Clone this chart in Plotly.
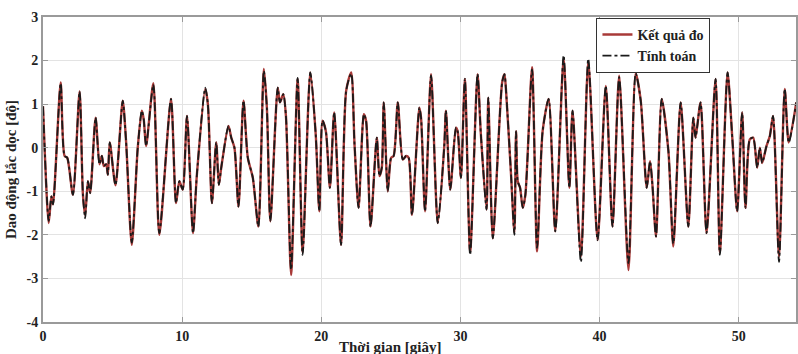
import plotly.graph_objects as go

# time (s) of read key points
t = [0.0, 0.41, 0.6, 0.72, 1.27, 1.55, 1.74, 2.15, 2.63, 2.87, 3.03, 3.23, 3.39, 3.78,
     4.06, 4.23, 4.37, 4.54, 4.66, 4.80, 5.21, 5.73, 5.97, 6.38, 6.81, 7.1, 7.24, 7.41,
     7.93, 8.36, 9.2, 9.56, 9.8, 10.04, 10.35, 10.78, 11.06, 11.66, 11.85, 12.14, 12.45,
     12.64, 12.81, 13.33, 13.53, 13.76, 14.05, 14.41, 14.72, 15.08, 15.48, 15.87, 16.09,
     16.34, 16.87, 17.03, 17.27, 17.46, 17.83, 18.3, 18.66, 19.21, 19.6, 19.86, 20.09,
     20.33, 20.62, 20.93, 21.42, 21.79, 22.15, 22.39, 22.68, 23.06, 23.22, 23.54, 23.99,
     24.18, 24.35, 24.49, 24.78, 25.02, 25.2, 25.5, 25.86, 26.1, 26.28, 26.52, 27.05,
     27.17, 27.46, 27.89, 28.37, 28.84, 28.96, 29.27, 29.68, 29.8, 30.04, 30.32, 30.7,
     31.23, 31.47, 31.88, 32.0, 32.33, 33.0, 33.17, 33.28, 33.64, 33.88, 34.0, 34.12,
     34.29, 34.48, 34.67, 35.15, 35.51, 35.91, 36.34, 36.82, 37.42, 37.83, 38.06, 38.66,
     39.19, 39.86, 40.45, 40.93, 41.41, 42.08, 42.6, 42.96, 43.39, 43.63, 43.8, 44.06,
     44.47, 44.95, 45.3, 45.83, 46.38, 46.74, 46.9, 47.26, 47.69, 48.34, 48.65, 49.2,
     49.54, 49.89, 50.25, 50.49, 50.8, 51.04, 51.33, 51.52, 51.69, 52.0, 52.24, 52.47,
     52.9, 53.31, 53.6, 54.14]

# measured pitch oscillation (deg)
measured = [0.95, -1.73, -1.12, -1.3, 1.5, -0.19, -0.23, -1.08, 1.29, -1.08, -1.55, -0.77,
            -1.04, 0.69, -0.38, -0.19, -0.42, -0.38, -0.62, 0.12, -0.86, 1.08, 0.15, -2.23,
            0.0, 0.85, 0.65, 0.04, 1.48, -2.0, 1.12, -1.27, -0.77, -0.96, 0.73, -1.96,
            -0.62, 1.35, 1.0, -1.27, 0.12, -0.85, -0.46, 0.5, 0.23, 0.0, -1.35, 1.08, -0.23,
            -0.69, -1.81, 1.81, 0.92, -1.69, 1.38, 1.04, 1.23, 0.73, -2.92, 1.58, -2.4,
            1.73, 0.31, -1.46, 0.62, 0.38, -0.92, 0.81, -2.23, 1.31, 1.73, 0.08, -1.38,
            0.77, 0.62, -1.81, 0.23, -0.65, -0.46, 1.04, -1.0, -0.23, -0.19, 1.04, -0.27,
            -0.19, -0.23, -1.54, 0.92, 0.69, -1.46, 1.69, -1.73, 0.04, 0.85, -0.96, 0.46,
            0.38, -0.69, 1.58, -2.4, 1.69, 0.31, -1.42, 1.15, -2.08, 1.5, 1.69, 1.31, -0.62,
            -1.95, 0.38, -0.77, -0.92, -1.38, -1.08, 1.85, -2.38, 0.38, 1.12, -1.92, 2.05,
            -0.92, 0.85, -2.5, 1.98, -2.12, 1.42, -1.81, 1.65, -2.81, 1.71, 1.08, -0.92,
            -0.31, -0.85, -2.04, 1.12, -0.08, -2.27, 1.04, -1.81, 0.69, 0.23, 1.04, -1.96,
            1.58, -2.4, 1.73, 0.23, -1.46, 0.81, -1.38, 0.19, 0.23, -0.46, 0.0, -0.35, 0.04,
            0.27, 0.73, -2.5, 1.35, 0.12, 1.04]

# computed pitch oscillation (deg)
computed = [0.95, -1.68, -1.12, -1.3, 1.48, -0.19, -0.23, -1.08, 1.29, -1.08, -1.62, -0.77,
            -1.04, 0.69, -0.38, -0.19, -0.42, -0.38, -0.62, 0.12, -0.86, 1.08, 0.15, -2.18,
            0.0, 0.85, 0.65, 0.04, 1.45, -1.96, 1.12, -1.27, -0.77, -0.96, 0.73, -1.96,
            -0.62, 1.38, 1.0, -1.27, 0.12, -0.85, -0.46, 0.5, 0.23, 0.0, -1.35, 1.08, -0.23,
            -0.69, -1.81, 1.76, 0.92, -1.69, 1.38, 1.04, 1.23, 0.73, -2.8, 1.6, -2.46,
            1.73, 0.31, -1.46, 0.62, 0.38, -0.92, 0.81, -2.23, 1.31, 1.7, 0.08, -1.38,
            0.77, 0.62, -1.81, 0.23, -0.65, -0.46, 1.04, -1.0, -0.23, -0.19, 1.04, -0.27,
            -0.19, -0.23, -1.54, 0.92, 0.69, -1.46, 1.66, -1.73, 0.04, 0.85, -0.96, 0.46,
            0.38, -0.69, 1.58, -2.46, 1.69, 0.31, -1.42, 1.15, -2.08, 1.5, 1.69, 1.31, -0.62,
            -2.0, 0.38, -0.77, -0.92, -1.38, -1.08, 1.8, -2.3, 0.38, 1.12, -1.92, 2.12,
            -0.92, 0.85, -2.62, 2.04, -2.12, 1.42, -1.81, 1.62, -2.65, 1.71, 1.08, -0.92,
            -0.31, -0.85, -2.04, 1.12, -0.08, -2.2, 1.04, -1.81, 0.69, 0.23, 1.04, -1.96,
            1.58, -2.46, 1.73, 0.23, -1.46, 0.81, -1.38, 0.19, 0.23, -0.46, 0.0, -0.35, 0.04,
            0.27, 0.73, -2.62, 1.35, 0.12, 1.04]

x_ticks = [0, 10, 20, 30, 40, 50]
y_ticks = [-4, -3, -2, -1, 0, 1, 2, 3]

font_family = "Liberation Serif, Times New Roman, serif"

fig = go.Figure()
fig.add_trace(go.Scatter(
    x=t, y=measured, mode="lines", name="<b>Kết quả đo</b>",
    line=dict(color="#a83a38", width=2.4, shape="spline", smoothing=0.7)))
fig.add_trace(go.Scatter(
    x=t, y=computed, mode="lines", name="<b>Tính toán</b>",
    line=dict(color="#1a1a1a", width=1.8, dash="dashdot", shape="spline", smoothing=0.7)))

axis_common = dict(
    showgrid=True, gridcolor="#e3e3e3", gridwidth=1,
    showline=True, linecolor="#9a9a9a", linewidth=2,
    ticks="inside", ticklen=5, tickcolor="#9a9a9a",
    zeroline=False, mirror="ticks",
    tickfont=dict(family=font_family, size=14, color="#222222"),
)

fig.update_xaxes(
    range=[0, 54.12], tickvals=x_ticks, ticktext=[f"<b>{v}</b>" for v in x_ticks],
    **axis_common)
fig.update_yaxes(
    range=[-4, 3], tickvals=y_ticks, ticktext=[f"<b>{v}</b>" for v in y_ticks],
    title=dict(text="<b>Dao động lắc dọc [độ]</b>", font=dict(family=font_family, size=15, color="#222222"),
               standoff=6),
    **axis_common)

fig.add_annotation(
    text="<b>Thời gian [giây]</b>", xref="paper", yref="paper",
    x=0.462, y=-0.083, xanchor="center", yanchor="middle", showarrow=False,
    font=dict(family=font_family, size=15, color="#222222"))

fig.update_layout(
    width=798, height=354,
    margin=dict(l=43, r=0, t=17, b=32),
    paper_bgcolor="white", plot_bgcolor="white",
    font=dict(family=font_family, color="#222222"),
    showlegend=True,
    legend=dict(x=0.735, y=0.997, xanchor="left", yanchor="top",
                bgcolor="white", bordercolor="#333333", borderwidth=1,
                font=dict(family=font_family, size=14, color="#222222"),
                itemwidth=30, tracegroupgap=0),
)

fig.write_html("out.html")
